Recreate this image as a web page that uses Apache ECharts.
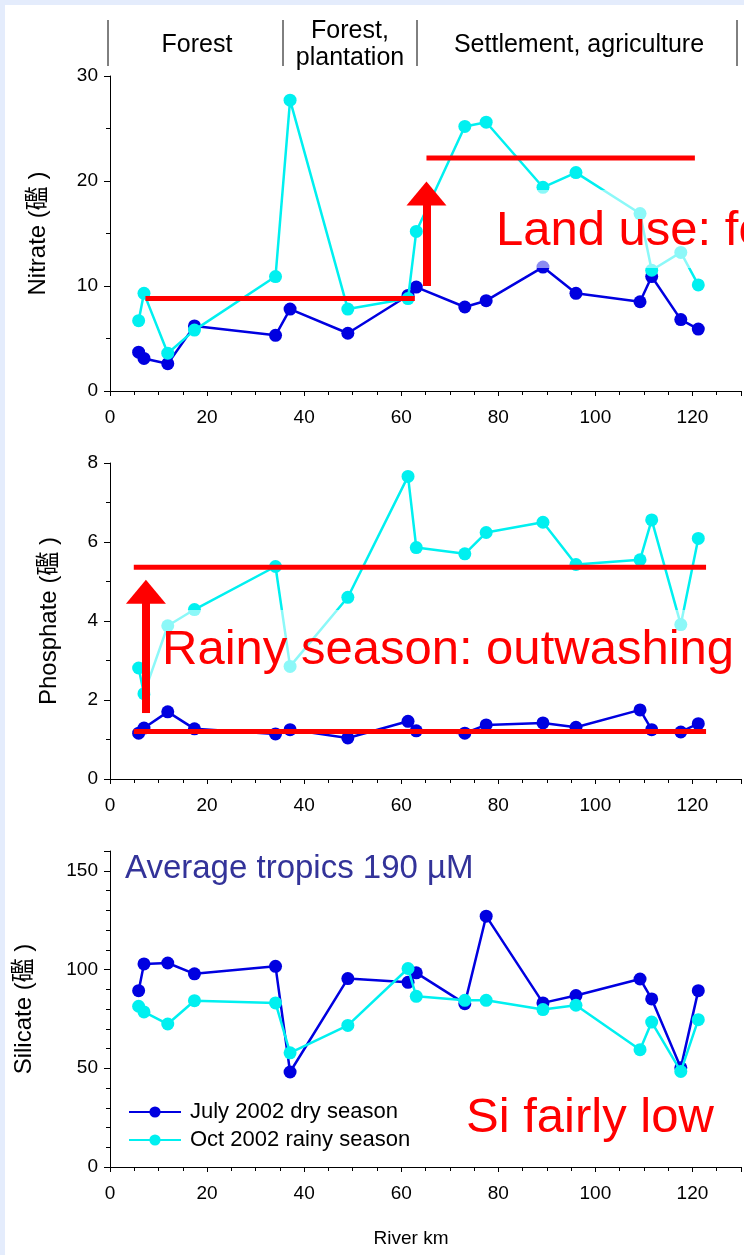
<!DOCTYPE html>
<html>
<head>
<meta charset="utf-8">
<script src="https://cdn.jsdelivr.net/npm/echarts@6/dist/echarts.min.js"></script>
<style>
  html, body { margin: 0; padding: 0; background: #e4ecfc; }
  #chart { width: 744px; height: 1255px; }
</style>
</head>
<body>
<div id="chart"></div>
<script>
// river km of the sampling stations
const stationKm = [5.9, 7.0, 11.9, 17.4, 34.1, 37.1, 49.0, 61.4, 63.1, 73.1, 77.5, 89.2, 96.0, 109.2, 111.6, 117.6, 121.2];

const nitrateJuly = [3.7, 3.1, 2.6, 6.2, 5.3, 7.8, 5.5, 9.1, 9.9, 8.0, 8.6, 11.8, 9.3, 8.5, 10.9, 6.8, 5.9];
const nitrateOct = [6.7, 9.3, 3.6, 5.8, 10.9, 27.7, 7.8, 8.8, 15.2, 25.2, 25.6, 19.4, 20.8, 16.9, 11.5, 13.2, 10.1];
const phosphateJuly = [1.16, 1.29, 1.70, 1.27, 1.14, 1.25, 1.04, 1.46, 1.22, 1.16, 1.37, 1.42, 1.31, 1.75, 1.25, 1.19, 1.40];
const phosphateOct = [2.81, 2.16, 3.88, 4.29, 5.38, 2.85, 4.60, 7.66, 5.86, 5.70, 6.24, 6.50, 5.43, 5.55, 6.56, 3.91, 6.09];
const silicateJuly = [89.3, 102.8, 103.3, 97.8, 101.6, 48.1, 95.4, 93.5, 98.3, 82.7, 127, 83.1, 86.8, 95.2, 85.1, 50.2, 89.3];
const silicateOct = [81.4, 78.5, 72.4, 84.2, 83.1, 57.8, 71.7, 100.5, 86.4, 84.4, 84.4, 79.7, 81.9, 59.4, 73.4, 48.4, 74.6];

const seriesNames = ["July 2002 dry season", "Oct 2002 rainy season"];
const yNames = ["Nitrate (礛 )", "Phosphate (礛 )", "Silicate (礛 )"];
const landUse = ["Forest", "Forest,\nplantation", "Settlement, agriculture"];

// red level lines [fromKm, toKm, value] and arrows [km, fromValue, toValue]
const nitrateLevels = [[7.3, 62.8, 8.8], [65.2, 120.5, 22.2]];
const nitrateArrow = [65.2, 10, 18.8];
const phosphateLevels = [[4.9, 122.8, 5.36], [4.9, 122.8, 1.2]];
const phosphateArrow = [7.4, 1.67, 4.74];

const FONT = "'Liberation Sans', Arial, 'Noto Sans CJK SC', sans-serif";
const BLUE = "#0000e0";
const CYAN = "#00f0f0";
const RED = "#ff0000";

const grids = [
  { left: 110, top: 76, width: 632, height: 315 },
  { left: 110, top: 463, width: 632, height: 316 },
  { left: 110, top: 851, width: 632, height: 316 },
];

function pairs(vals) {
  return stationKm.map((k, i) => [k, vals[i]]);
}

const xAxis = grids.map((g, i) => ({
  type: "value",
  gridIndex: i,
  min: 0,
  max: 130,
  interval: 20,
  splitLine: { show: false },
  axisLine: { lineStyle: { color: "#000", width: 1 } },
  axisTick: { length: 5, lineStyle: { color: "#000" } },
  minorTick: { show: true, splitNumber: 4, length: 4, lineStyle: { color: "#000" } },
  axisLabel: { color: "#000", fontSize: 19, fontFamily: FONT, margin: 17,
    formatter: (v) => (v > 120 ? "" : v) },
}));

const yCfg = [
  { max: 30, interval: 10, split: 2, gap: 60 },
  { max: 8, interval: 2, split: 2, gap: 49 },
  { max: 160, interval: 50, split: 5, gap: 74 },
];
const yAxis = yCfg.map((c, i) => ({
  type: "value",
  gridIndex: i,
  min: 0,
  max: c.max,
  interval: c.interval,
  name: yNames[i],
  nameLocation: "middle",
  nameRotate: 90,
  nameGap: c.gap,
  nameTextStyle: { color: "#000", fontSize: 24, fontFamily: FONT },
  splitLine: { show: false },
  axisLine: { show: true, lineStyle: { color: "#000", width: 1 } },
  axisTick: { show: true, length: 6, lineStyle: { color: "#000" } },
  minorTick: { show: true, splitNumber: c.split, length: 4, lineStyle: { color: "#000" } },
  axisLabel: { color: "#000", fontSize: 19, fontFamily: FONT, margin: 12,
    formatter: (v) => (v > 150 ? "" : v) },
}));

function dataSeries(name, vals, idx, color, z) {
  return {
    name: name,
    type: "line",
    xAxisIndex: idx,
    yAxisIndex: idx,
    data: pairs(vals),
    symbol: "circle",
    symbolSize: 13,
    color: color,
    lineStyle: { color: color, width: 2.5 },
    itemStyle: { color: color },
    z: z,
    silent: true,
  };
}

function levelSeries(levels, arrow, idx) {
  return levels.map((l, j) => {
    const s = {
      type: "line",
      xAxisIndex: idx,
      yAxisIndex: idx,
      data: [[l[0], l[2]], [l[1], l[2]]],
      showSymbol: false,
      lineStyle: { color: RED, width: 5 },
      z: 10,
      silent: true,
    };
    if (j === 0) {
      s.markLine = {
        silent: true,
        animation: false,
        label: { show: false },
        lineStyle: { color: RED, width: 8, type: "solid" },
        data: [[
          { coord: [arrow[0], arrow[1]], symbol: "none" },
          { coord: [arrow[0], arrow[2]], symbol: "triangle", symbolSize: [40, 24] },
        ]],
      };
    }
    return s;
  });
}

const series = [
  dataSeries(seriesNames[0], nitrateJuly, 0, BLUE, 3),
  dataSeries(seriesNames[1], nitrateOct, 0, CYAN, 4),
  dataSeries(seriesNames[0], phosphateJuly, 1, BLUE, 3),
  dataSeries(seriesNames[1], phosphateOct, 1, CYAN, 4),
  dataSeries(seriesNames[0], silicateJuly, 2, BLUE, 3),
  dataSeries(seriesNames[1], silicateOct, 2, CYAN, 4),
  ...levelSeries(nitrateLevels, nitrateArrow, 0),
  ...levelSeries(phosphateLevels, phosphateArrow, 1),
];

const sepX = [108, 283, 417, 737];
const labelX = [197, 350, 579];

function redText(text, x, y, box) {
  return [
    { type: "rect", shape: box, style: { fill: "rgba(255,255,255,0.55)" }, z: 15, silent: true },
    { type: "text", x: x, y: y, silent: true, z: 20,
      style: { text: text, fill: RED, font: "49px " + FONT, verticalAlign: "middle" } },
  ];
}

const graphic = [
  { type: "rect", left: 5, top: 5, shape: { width: 739, height: 1250 }, style: { fill: "#fff" }, z: -10, silent: true },
  ...sepX.map((x) => ({ type: "line", shape: { x1: x, y1: 20, x2: x, y2: 66 }, style: { stroke: "#000", lineWidth: 1 }, silent: true })),
  ...landUse.map((t, i) => ({
    type: "text", x: labelX[i], y: 45, silent: true,
    style: { text: t, fill: "#000", font: "25px " + FONT, align: "center", verticalAlign: "middle", lineHeight: 27 },
  })),
  ...redText("Land use: forest", 496, 231, { x: 482, y: 190, width: 262, height: 78 }),
  ...redText("Rainy season: outwashing", 162, 650, { x: 150, y: 610, width: 594, height: 84 }),
  { type: "text", x: 125, y: 869, silent: true, z: 20,
    style: { text: "Average tropics 190 µM", fill: "#333399", font: "33px " + FONT, verticalAlign: "middle" } },
  { type: "text", x: 466, y: 1118, silent: true, z: 20,
    style: { text: "Si fairly low", fill: RED, font: "49px " + FONT, verticalAlign: "middle" } },
  { type: "text", x: 411, y: 1239, silent: true,
    style: { text: "River km", fill: "#000", font: "19px " + FONT, align: "center", verticalAlign: "middle" } },
];

const chart = echarts.init(document.getElementById("chart"), null, { renderer: "canvas" });
chart.setOption({
  backgroundColor: "#e4ecfc",
  animation: false,
  grid: grids,
  xAxis: xAxis,
  yAxis: yAxis,
  legend: {
    data: seriesNames,
    orient: "vertical",
    left: 128,
    top: 1101,
    padding: 0,
    itemGap: 6,
    itemWidth: 52,
    itemHeight: 14,
    textStyle: { color: "#000", fontSize: 22, fontFamily: FONT, padding: [0, 0, 0, 4] },
    selectedMode: false,
  },
  graphic: graphic,
  series: series,
});
</script>
</body>
</html>
